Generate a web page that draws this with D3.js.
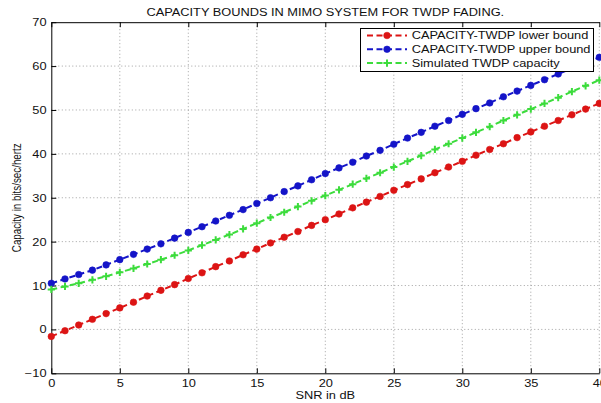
<!DOCTYPE html>
<html>
<head>
<meta charset="utf-8">
<script src="https://cdn.jsdelivr.net/npm/d3@7/dist/d3.min.js"></script>
<style>
  html, body { margin: 0; padding: 0; background: #fff; }
  svg { display: block; }
  text { font-family: "Liberation Sans", Arial, sans-serif; fill: #111; }
</style>
</head>
<body>
<svg id="chart" width="601" height="403"></svg>
<script>
// ---- data ----
const snr = d3.range(0, 41, 1); // x: SNR in dB, 0..40 step 1
const lowerBound = [-1.6, -0.3, 1.0, 2.3, 3.6, 4.9, 6.2, 7.6, 8.9, 10.2,
  11.6, 12.9, 14.3, 15.6, 17.0, 18.3, 19.7, 21.0, 22.3, 23.7,
  25.0, 26.3, 27.7, 29.0, 30.3, 31.7, 33.0, 34.3, 35.7, 37.0,
  38.3, 39.7, 41.0, 42.3, 43.7, 45.0, 46.3, 47.6, 48.9, 50.2, 51.5];
const upperBound = [10.5, 11.5, 12.5, 13.5, 14.7, 15.9, 17.1, 18.3, 19.5, 20.8,
  22.1, 23.4, 24.7, 26.0, 27.3, 28.7, 30.0, 31.4, 32.7, 34.1,
  35.5, 36.8, 38.1, 39.5, 40.8, 42.2, 43.6, 44.9, 46.3, 47.6,
  49.0, 50.3, 51.6, 53.0, 54.3, 55.6, 56.9, 58.2, 59.5, 60.7, 62.0];
const simulated = [9.1, 9.8, 10.5, 11.3, 12.1, 13.0, 13.9, 14.9, 15.9, 16.9,
  18.0, 19.2, 20.4, 21.6, 22.9, 24.2, 25.5, 26.7, 28.0, 29.3,
  30.5, 31.8, 33.1, 34.4, 35.7, 37.0, 38.3, 39.6, 41.0, 42.3,
  43.6, 44.9, 46.2, 47.6, 48.9, 50.2, 51.5, 52.8, 54.2, 55.5, 56.8];
const xTicks = [0, 5, 10, 15, 20, 25, 30, 35, 40];
const yTicks = [-10, 0, 10, 20, 30, 40, 50, 60, 70];
const seriesNames = ["CAPACITY-TWDP lower bound", "CAPACITY-TWDP upper bound", "Simulated TWDP capacity"];
const titleText = "CAPACITY BOUNDS IN MIMO SYSTEM FOR TWDP FADING.";
const xLabel = "SNR in dB";
const yLabel = "Capacity in bits/sec/hertz";

// ---- layout / style ----
const SX = 1.28; // horizontal stretch of the reference's text
const L = 51.3, R = 599.3, T = 22.2, B = 373.3;
const colors = ["#dc1414", "#1414c8", "#3cdc3c"];
const markers = ["circle", "circle", "plus"];
const seriesData = [lowerBound, upperBound, simulated];

const svg = d3.select("#chart");
const x = d3.scaleLinear().domain([0, 40]).range([L, R]);
const y = d3.scaleLinear().domain([-10, 70]).range([B, T]);

// grid
const grid = svg.append("g");
grid.selectAll(".vg").data(xTicks.slice(1)).join("line")
  .attr("x1", d => x(d)).attr("x2", d => x(d)).attr("y1", T).attr("y2", B)
  .attr("stroke", "#8a8a8a").attr("stroke-width", 0.8).attr("stroke-dasharray", "1,2.5");
grid.selectAll(".hg").data(yTicks.filter(d => d !== -10 && d !== 70)).join("line")
  .attr("x1", L).attr("x2", R).attr("y1", d => y(d)).attr("y2", d => y(d))
  .attr("stroke", "#8a8a8a").attr("stroke-width", 0.8).attr("stroke-dasharray", "1,2.5");

// axes
const xAxis = svg.append("g").attr("transform", `translate(0,${B})`)
  .call(d3.axisBottom(x).tickValues(xTicks).tickSize(-5).tickSizeOuter(0).tickFormat(d3.format("d")));
const xTop = svg.append("g").attr("transform", `translate(0,${T})`)
  .call(d3.axisTop(x).tickValues(xTicks).tickSize(-5).tickSizeOuter(0).tickFormat(""));
const yAxis = svg.append("g").attr("transform", `translate(${L},0)`)
  .call(d3.axisLeft(y).tickValues(yTicks).tickSize(-5).tickSizeOuter(0).tickFormat(d3.format("d")));
[xAxis, xTop, yAxis].forEach(g => {
  g.select(".domain").attr("stroke", "#000").attr("stroke-width", 1);
  g.selectAll(".tick line").attr("stroke", "#000");
});
xAxis.selectAll(".tick text")
  .attr("y", 0).attr("dy", 0).attr("font-size", 10).attr("fill", "#111")
  .attr("transform", `translate(0,13.5) scale(${SX},1)`);
yAxis.selectAll(".tick text")
  .attr("x", 0).attr("dy", "0.35em").attr("font-size", 10).attr("fill", "#111")
  .attr("transform", `translate(-4.8,0) scale(${SX},1)`);

// helper for stretched text
function hText(str, tx, ty, anchor, size) {
  return svg.append("text").text(str)
    .attr("text-anchor", anchor).attr("font-size", size)
    .attr("transform", `translate(${tx},${ty}) scale(${SX},1)`);
}
hText(titleText, (L + R) / 2, 16, "middle", 10);
hText(xLabel, (L + R) / 2, 399, "middle", 10);
svg.append("text").text(yLabel)
  .attr("text-anchor", "middle").attr("font-size", 9.8)
  .attr("transform", `translate(21,${(T + B) / 2}) rotate(-90) scale(1,${SX})`);

// series
const line = d3.line().x((d, i) => x(snr[i])).y(d => y(d));
function drawMarker(g, type, cx, cy, color) {
  if (type === "circle") {
    g.append("circle").attr("cx", cx).attr("cy", cy).attr("r", 3.3).attr("fill", color).attr("stroke", color).attr("stroke-width", 0.6);
  } else {
    g.append("path").attr("d", `M${cx - 3.6},${cy}H${cx + 3.6}M${cx},${cy - 3.6}V${cy + 3.6}`)
      .attr("stroke", color).attr("stroke-width", 2).attr("fill", "none");
  }
}
seriesData.forEach((vals, k) => {
  const g = svg.append("g");
  g.append("path").attr("d", line(vals)).attr("fill", "none")
    .attr("stroke", colors[k]).attr("stroke-width", 2).attr("stroke-dasharray", "6,3.5");
  vals.forEach((v, i) => drawMarker(g, markers[k], x(snr[i]), y(v), colors[k]));
});

// legend
const lg = svg.append("g");
lg.append("rect").attr("x", 360.5).attr("y", 28.5).attr("width", 233).attr("height", 43)
  .attr("fill", "#fff").attr("stroke", "#000").attr("stroke-width", 1);
seriesNames.forEach((name, k) => {
  const cy = 35.5 + k * 13.8;
  lg.append("line").attr("x1", 367).attr("x2", 407).attr("y1", cy).attr("y2", cy)
    .attr("stroke", colors[k]).attr("stroke-width", 2).attr("stroke-dasharray", "6,3.5");
  drawMarker(lg, markers[k], 387, cy, colors[k]);
  lg.append("text").text(name).attr("font-size", 10).attr("text-anchor", "start")
    .attr("transform", `translate(411.7,${cy + 3.6}) scale(${SX},1)`);
});
</script>
</body>
</html>
